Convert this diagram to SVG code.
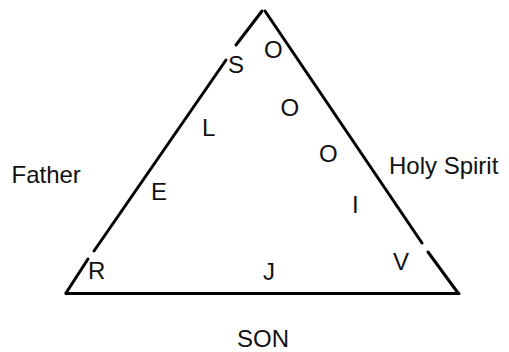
<svg xmlns="http://www.w3.org/2000/svg" width="509" height="352" viewBox="0 0 509 352">
<style>
  .t { font-family: "Liberation Sans", Arial, sans-serif; font-size: 24px; fill: #111; }
  .ln { stroke: #000; stroke-width: 3; stroke-linecap: round; fill: none; }
</style>
<rect width="509" height="352" fill="#fff"/>
<g id="triangle" class="ln">
  <line x1="262" y1="11" x2="236" y2="45"/>
  <line x1="226" y1="60" x2="94" y2="251"/>
  <line x1="88" y1="259" x2="66" y2="293"/>
  <line x1="66" y1="293.5" x2="459" y2="293.5"/>
  <line x1="265" y1="11" x2="422" y2="243"/>
  <line x1="428" y1="252" x2="458" y2="293"/>
</g>
<g id="letters">
  <text class="t" x="228" y="73">S</text>
  <text class="t" x="264" y="58">O</text>
  <text class="t" x="280.5" y="116">O</text>
  <text class="t" x="202" y="136">L</text>
  <text class="t" x="319" y="161.5">O</text>
  <text class="t" x="151" y="200">E</text>
  <text class="t" x="352" y="213">I</text>
  <text class="t" x="88" y="278.5">R</text>
  <text class="t" x="263" y="280">J</text>
  <text class="t" x="393" y="270">V</text>
</g>
<g id="labels">
  <text class="t" x="11.5" y="182.7">Father</text>
  <text class="t" x="389" y="174">Holy Spirit</text>
  <text class="t" x="237" y="346.5">SON</text>
</g>
</svg>
